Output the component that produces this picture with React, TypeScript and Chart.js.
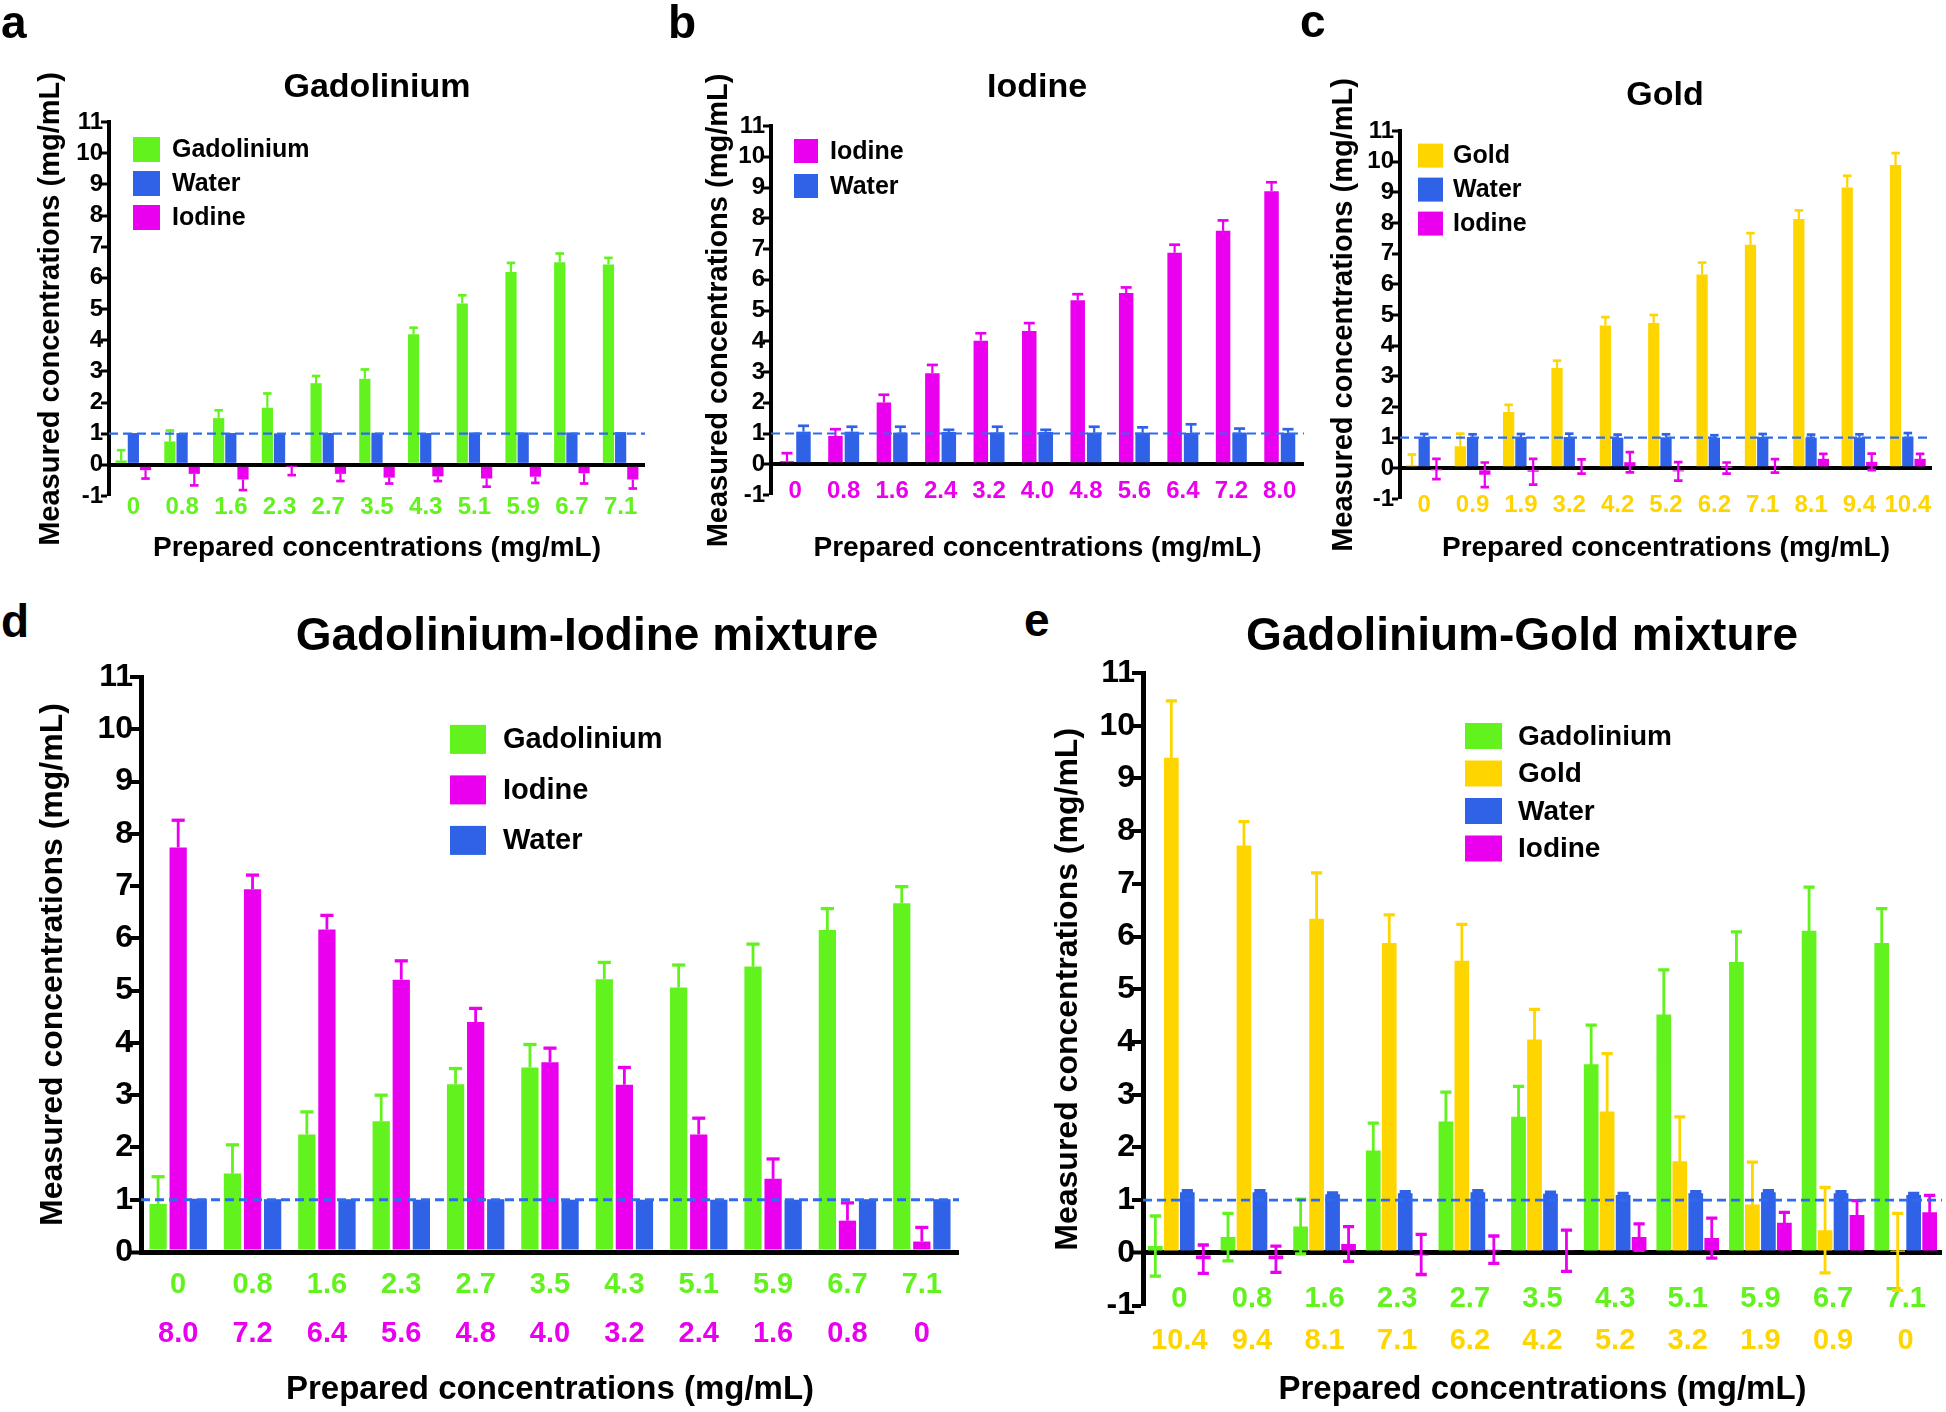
import React, { useEffect, useRef } from 'react';
import { Chart, registerables } from 'chart.js';

Chart.register(...registerables);

const FONT = '"Liberation Sans", Arial, Helvetica, sans-serif';
const GREEN = '#62f21e';
const BLUE = '#2f62e6';
const MAGENTA = '#ea00ee';
const GOLD = '#ffd500';
const DASH = '#2d6cf0';

// ---------- Panel a : Gadolinium ----------
const catsA = ['0', '0.8', '1.6', '2.3', '2.7', '3.5', '4.3', '5.1', '5.9', '6.7', '7.1'];
const gdA = [0.14, 0.75, 1.5, 1.83, 2.62, 2.76, 4.19, 5.18, 6.19, 6.5, 6.43];
const gdAErr = [0.33, 0.35, 0.25, 0.46, 0.23, 0.3, 0.21, 0.26, 0.29, 0.28, 0.21];
const waterA = [1.02, 1.02, 1.02, 1.01, 1.02, 1.03, 1.02, 1.04, 1.04, 1.04, 1.05];
const iodA = [-0.17, -0.29, -0.47, -0.03, -0.29, -0.41, -0.37, -0.44, -0.38, -0.27, -0.47];
const iodAErr = [0.27, 0.37, 0.34, 0.3, 0.23, 0.19, 0.15, 0.26, 0.2, 0.33, 0.29];

// ---------- Panel b : Iodine ----------
const catsB = ['0', '0.8', '1.6', '2.4', '3.2', '4.0', '4.8', '5.6', '6.4', '7.2', '8.0'];
const iodB = [0.1, 0.92, 2.01, 2.96, 4.02, 4.33, 5.33, 5.57, 6.88, 7.59, 8.88];
const iodBErr = [0.26, 0.22, 0.25, 0.27, 0.24, 0.26, 0.2, 0.18, 0.26, 0.34, 0.29];
const waterB = [1.06, 1.06, 1.03, 1.05, 1.04, 1.05, 1.03, 1.03, 1.02, 1.03, 1.02];
const waterBErr = [0.19, 0.16, 0.19, 0.07, 0.18, 0.07, 0.19, 0.17, 0.28, 0.13, 0.12];

// ---------- Panel c : Gold ----------
const catsC = ['0', '0.9', '1.9', '3.2', '4.2', '5.2', '6.2', '7.1', '8.1', '9.4', '10.4'];
const goldC = [0.1, 0.72, 1.84, 3.27, 4.66, 4.74, 6.32, 7.29, 8.13, 9.16, 9.89];
const goldCErr = [0.35, 0.41, 0.23, 0.24, 0.27, 0.26, 0.39, 0.38, 0.28, 0.38, 0.39];
const waterC = [1.02, 1.02, 1.02, 1.02, 1.0, 1.01, 1.0, 1.02, 1.0, 1.01, 1.03];
const waterCErr = [0.1, 0.09, 0.1, 0.11, 0.1, 0.1, 0.08, 0.1, 0.1, 0.1, 0.12];
const iodC = [-0.02, -0.21, -0.11, 0.06, 0.2, -0.1, 0.01, 0.08, 0.31, 0.21, 0.31];
const iodCErr = [0.33, 0.4, 0.42, 0.23, 0.33, 0.3, 0.18, 0.22, 0.16, 0.27, 0.16];

// ---------- Panel d : Gadolinium-Iodine mixture ----------
const catsDGd = ['0', '0.8', '1.6', '2.3', '2.7', '3.5', '4.3', '5.1', '5.9', '6.7', '7.1'];
const catsDIod = ['8.0', '7.2', '6.4', '5.6', '4.8', '4.0', '3.2', '2.4', '1.6', '0.8', '0'];
const gdD = [0.92, 1.5, 2.25, 2.5, 3.21, 3.53, 5.22, 5.06, 5.46, 6.16, 6.67];
const gdDErr = [0.52, 0.55, 0.43, 0.5, 0.3, 0.44, 0.32, 0.43, 0.43, 0.41, 0.32];
const iodD = [7.74, 6.94, 6.17, 5.21, 4.4, 3.63, 3.2, 2.25, 1.4, 0.6, 0.2];
const iodDErr = [0.52, 0.27, 0.27, 0.36, 0.26, 0.27, 0.33, 0.31, 0.38, 0.34, 0.27];
const waterD = [1.02, 1.01, 1.01, 1.0, 1.01, 1.0, 1.0, 1.0, 1.0, 1.01, 1.01];

// ---------- Panel e : Gadolinium-Gold mixture ----------
const catsEGd = ['0', '0.8', '1.6', '2.3', '2.7', '3.5', '4.3', '5.1', '5.9', '6.7', '7.1'];
const catsEAu = ['10.4', '9.4', '8.1', '7.1', '6.2', '4.2', '5.2', '3.2', '1.9', '0.9', '0'];
const gdE = [0.13, 0.3, 0.5, 1.94, 2.49, 2.58, 3.58, 4.52, 5.52, 6.11, 5.88];
const gdEErr = [0.57, 0.45, 0.52, 0.52, 0.56, 0.58, 0.74, 0.85, 0.57, 0.83, 0.65];
const goldE = [9.39, 7.73, 6.34, 5.88, 5.54, 4.05, 2.68, 1.74, 0.92, 0.43, 0.02];
const goldEErr = [1.08, 0.45, 0.87, 0.53, 0.69, 0.57, 1.1, 0.84, 0.8, 0.81, 0.73];
const waterE = [1.15, 1.15, 1.11, 1.13, 1.15, 1.12, 1.1, 1.13, 1.15, 1.13, 1.1];
const waterEErr = [0.03, 0.03, 0.03, 0.03, 0.03, 0.03, 0.03, 0.03, 0.03, 0.03, 0.03];
const iodE = [-0.12, -0.12, 0.17, -0.03, 0.06, 0.04, 0.3, 0.28, 0.57, 0.72, 0.77];
const iodEErr = [0.27, 0.25, 0.33, 0.38, 0.26, 0.39, 0.25, 0.38, 0.2, 0.27, 0.32];

const Y_TITLE = 'Measured concentrations (mg/mL)';
const X_TITLE = 'Prepared concentrations (mg/mL)';

// ---------- plugins ----------
const errorBarsPlugin = {
  id: 'errorBars',
  afterDatasetsDraw(chart: any, _a: any, opts: any) {
    const ctx = chart.ctx;
    const ys = chart.scales.y;
    chart.data.datasets.forEach((ds: any, di: number) => {
      if (!ds.errors) return;
      const meta = chart.getDatasetMeta(di);
      meta.data.forEach((bar: any, i: number) => {
        const v = ds.data[i];
        const e = ds.errors[i];
        if (!e) return;
        const dir = v < 0 ? -1 : 1;
        const yEnd = ys.getPixelForValue(v + dir * e);
        const yStart = ys.getPixelForValue(ds.twoSided ? v - dir * e : v);
        const half = Math.max(3, bar.width * (opts.capFrac || 0.35));
        ctx.save();
        ctx.strokeStyle = ds.backgroundColor;
        ctx.lineWidth = opts.lineWidth || 2.5;
        ctx.lineCap = 'butt';
        ctx.beginPath();
        ctx.moveTo(bar.x, yStart);
        ctx.lineTo(bar.x, yEnd);
        ctx.stroke();
        ctx.lineWidth = opts.capWidth || 3;
        ctx.beginPath();
        ctx.moveTo(bar.x - half, yEnd);
        ctx.lineTo(bar.x + half, yEnd);
        if (ds.twoSided) {
          ctx.moveTo(bar.x - half, yStart);
          ctx.lineTo(bar.x + half, yStart);
        }
        ctx.stroke();
        ctx.restore();
      });
    });
  },
};

const refLinePlugin = {
  id: 'refLine',
  afterDatasetsDraw(chart: any, _a: any, opts: any) {
    const { ctx, chartArea } = chart;
    const y = chart.scales.y.getPixelForValue(opts.value);
    ctx.save();
    ctx.setLineDash(opts.dash);
    ctx.strokeStyle = opts.color;
    ctx.lineWidth = opts.width;
    ctx.beginPath();
    ctx.moveTo(chartArea.left, y);
    ctx.lineTo(chartArea.right, y);
    ctx.stroke();
    ctx.restore();
  },
};

const innerLegendPlugin = {
  id: 'innerLegend',
  afterDraw(chart: any, _a: any, opts: any) {
    const ctx = chart.ctx;
    ctx.save();
    ctx.font = `bold ${opts.fontSize}px ${FONT}`;
    ctx.textBaseline = 'middle';
    ctx.textAlign = 'left';
    chart.data.datasets.forEach((ds: any, i: number) => {
      const cy = opts.y + i * opts.dy;
      ctx.fillStyle = ds.backgroundColor;
      ctx.fillRect(opts.x, cy - opts.boxH / 2, opts.boxW, opts.boxH);
      ctx.fillStyle = '#000';
      ctx.fillText(ds.label, opts.textX, cy + 1);
    });
    ctx.restore();
  },
};

type DS = { label: string; data: number[]; errors?: number[]; color: string; twoSided?: boolean };

type PanelSpec = {
  canvas: { left: number; top: number; width: number; height: number };
  area: { left: number; top: number; right: number; bottom: number };
  yMin: number;
  yMax: number;
  labels: string[];
  labelColor: string;
  labels2?: string[];
  label2Color?: string;
  h1?: number;
  datasets: DS[];
  catPct: number;
  barPct: number;
  fonts: { tick: number; cat: number; xTitle: number; yTitle: number; legend: number };
  yTitleX: number;
  catY: number;
  cat2Y?: number;
  xTitleY: number;
  legend: { x: number; y: number; dy: number; boxW: number; boxH: number; textX: number };
  tickLen: number;
  tickPad: number;
  tickWidth: number;
  zeroWidth: number;
  borderWidth: number;
  errLine: number;
  dashWidth: number;
};

function buildConfig(p: PanelSpec): any {
  const cl = p.canvas.left;
  const ct = p.canvas.top;
  const cw = p.canvas.width;
  const ch = p.canvas.height;
  const yW = p.area.left - cl;
  const padTop = p.area.top - ct;
  const padRight = cl + cw - p.area.right;
  const bottomTotal = ct + ch - p.area.bottom;
  const two = !!p.labels2;
  const h1 = two ? (p.h1 as number) : bottomTotal;
  const h2 = bottomTotal - h1;
  const catLH = p.fonts.cat * 1.2;
  const xLH = p.fonts.xTitle * 1.2;
  const yLH = p.fonts.yTitle * 1.2;
  const catFont = { family: FONT, size: p.fonts.cat, weight: 'bold' };

  const xTitle = {
    display: true,
    text: X_TITLE,
    color: '#000',
    font: { family: FONT, size: p.fonts.xTitle, weight: 'bold' },
    padding: { top: 0, bottom: ct + ch - p.xTitleY - xLH / 2 },
  };

  const scales: any = {
    x: {
      type: 'category',
      position: 'bottom',
      weight: 1,
      offset: true,
      grid: { display: false, drawTicks: false },
      border: { display: false },
      ticks: {
        mirror: true,
        color: p.labelColor,
        font: catFont,
        padding: p.area.bottom - p.catY - catLH / 2,
        maxRotation: 0,
        minRotation: 0,
        autoSkip: false,
      },
      afterFit: (s: any) => {
        s.height = h1;
      },
      title: two ? { display: false } : xTitle,
    },
    y: {
      type: 'linear',
      position: 'left',
      min: p.yMin,
      max: p.yMax,
      z: 1,
      ticks: {
        stepSize: 1,
        color: '#000',
        font: { family: FONT, size: p.fonts.tick, weight: 'bold' },
        padding: p.tickPad,
        autoSkip: false,
      },
      grid: {
        display: true,
        drawOnChartArea: true,
        drawTicks: true,
        color: (c: any) => (c.tick && c.tick.value === 0 ? '#000' : 'rgba(0,0,0,0)'),
        lineWidth: (c: any) => (c.tick && c.tick.value === 0 ? p.zeroWidth : 0),
        tickColor: '#000',
        tickWidth: p.tickWidth,
        tickLength: p.tickLen,
      },
      border: { display: true, color: '#000', width: p.borderWidth },
      title: {
        display: true,
        text: Y_TITLE,
        color: '#000',
        font: { family: FONT, size: p.fonts.yTitle, weight: 'bold' },
        padding: { top: p.yTitleX - cl - yLH / 2, bottom: 0 },
      },
      afterFit: (s: any) => {
        s.width = yW;
      },
    },
  };

  if (two) {
    scales.x2 = {
      type: 'category',
      position: 'bottom',
      weight: 2,
      offset: true,
      labels: p.labels2,
      grid: { display: false, drawTicks: false },
      border: { display: false },
      ticks: {
        mirror: true,
        color: p.label2Color,
        font: catFont,
        padding: p.area.bottom + h1 - (p.cat2Y as number) - catLH / 2,
        maxRotation: 0,
        minRotation: 0,
        autoSkip: false,
      },
      afterFit: (s: any) => {
        s.height = h2;
      },
      title: xTitle,
    };
  }

  return {
    type: 'bar',
    data: {
      labels: p.labels,
      datasets: p.datasets.map((d) => ({
        label: d.label,
        data: d.data,
        errors: d.errors,
        twoSided: d.twoSided,
        backgroundColor: d.color,
        borderWidth: 0,
        categoryPercentage: p.catPct,
        barPercentage: p.barPct,
        xAxisID: 'x',
        yAxisID: 'y',
      })),
    },
    options: {
      responsive: false,
      animation: false,
      devicePixelRatio: 1,
      events: [],
      layout: { padding: { top: padTop, right: padRight, left: 0, bottom: 0 } },
      scales,
      plugins: {
        legend: { display: false },
        tooltip: { enabled: false },
        title: { display: false },
        errorBars: { lineWidth: p.errLine, capWidth: p.errLine + 0.5, capFrac: 0.38 },
        refLine: { value: 1, color: DASH, width: p.dashWidth, dash: [9, 5] },
        innerLegend: {
          x: p.legend.x - cl,
          y: p.legend.y - ct,
          dy: p.legend.dy,
          boxW: p.legend.boxW,
          boxH: p.legend.boxH,
          textX: p.legend.textX - cl,
          fontSize: p.fonts.legend,
        },
      },
    },
    plugins: [errorBarsPlugin, refLinePlugin, innerLegendPlugin],
  };
}

const topFonts = { tick: 24, cat: 24, xTitle: 28, yTitle: 29, legend: 25 };
const botFonts = { tick: 32, cat: 29, xTitle: 33, yTitle: 32, legend: 29 };

const panelA: PanelSpec = {
  canvas: { left: 0, top: 40, width: 660, height: 535 },
  area: { left: 109, top: 122, right: 645, bottom: 496 },
  yMin: -1,
  yMax: 11,
  labels: catsA,
  labelColor: GREEN,
  datasets: [
    { label: 'Gadolinium', data: gdA, errors: gdAErr, color: GREEN },
    { label: 'Water', data: waterA, color: BLUE },
    { label: 'Iodine', data: iodA, errors: iodAErr, color: MAGENTA },
  ],
  catPct: 0.75,
  barPct: 0.92,
  fonts: topFonts,
  yTitleX: 51,
  catY: 507,
  xTitleY: 548,
  legend: { x: 133, y: 149.5, dy: 34, boxW: 27, boxH: 25, textX: 172 },
  tickLen: 8,
  tickPad: -2,
  tickWidth: 3,
  zeroWidth: 4,
  borderWidth: 4,
  errLine: 2.2,
  dashWidth: 2.2,
};

const panelB: PanelSpec = {
  canvas: { left: 662, top: 40, width: 650, height: 535 },
  area: { left: 771, top: 126, right: 1304, bottom: 495 },
  yMin: -1,
  yMax: 11,
  labels: catsB,
  labelColor: MAGENTA,
  datasets: [
    { label: 'Iodine', data: iodB, errors: iodBErr, color: MAGENTA },
    { label: 'Water', data: waterB, errors: waterBErr, color: BLUE },
  ],
  catPct: 0.68,
  barPct: 0.88,
  fonts: topFonts,
  yTitleX: 719,
  catY: 491,
  xTitleY: 548,
  legend: { x: 794, y: 151, dy: 35, boxW: 24, boxH: 24, textX: 830 },
  tickLen: 8,
  tickPad: -2,
  tickWidth: 3,
  zeroWidth: 4,
  borderWidth: 4,
  errLine: 2.2,
  dashWidth: 2.2,
};

const panelC: PanelSpec = {
  canvas: { left: 1300, top: 40, width: 646, height: 535 },
  area: { left: 1400, top: 131, right: 1932, bottom: 499 },
  yMin: -1,
  yMax: 11,
  labels: catsC,
  labelColor: GOLD,
  datasets: [
    { label: 'Gold', data: goldC, errors: goldCErr, color: GOLD },
    { label: 'Water', data: waterC, errors: waterCErr, color: BLUE },
    { label: 'Iodine', data: iodC, errors: iodCErr, color: MAGENTA, twoSided: true },
  ],
  catPct: 0.76,
  barPct: 0.92,
  fonts: topFonts,
  yTitleX: 1344,
  catY: 505.5,
  xTitleY: 548,
  legend: { x: 1418, y: 155.6, dy: 34, boxW: 25, boxH: 24, textX: 1453 },
  tickLen: 8,
  tickPad: -2,
  tickWidth: 3,
  zeroWidth: 4,
  borderWidth: 4,
  errLine: 2.2,
  dashWidth: 2.2,
};

const panelD: PanelSpec = {
  canvas: { left: 0, top: 655, width: 980, height: 757 },
  area: { left: 141, top: 677, right: 959, bottom: 1252 },
  yMin: 0,
  yMax: 11,
  labels: catsDGd,
  labelColor: GREEN,
  labels2: catsDIod,
  label2Color: MAGENTA,
  h1: 50,
  datasets: [
    { label: 'Gadolinium', data: gdD, errors: gdDErr, color: GREEN },
    { label: 'Iodine', data: iodD, errors: iodDErr, color: MAGENTA },
    { label: 'Water', data: waterD, color: BLUE },
  ],
  catPct: 0.81,
  barPct: 0.86,
  fonts: botFonts,
  yTitleX: 53,
  catY: 1284.6,
  cat2Y: 1334.4,
  xTitleY: 1390,
  legend: { x: 450, y: 739.4, dy: 50.5, boxW: 36, boxH: 29, textX: 503 },
  tickLen: 11,
  tickPad: -3,
  tickWidth: 4,
  zeroWidth: 5,
  borderWidth: 5,
  errLine: 2.8,
  dashWidth: 2.8,
};

const panelE: PanelSpec = {
  canvas: { left: 985, top: 650, width: 961, height: 762 },
  area: { left: 1143, top: 673, right: 1942, bottom: 1305.6 },
  yMin: -1,
  yMax: 11,
  labels: catsEGd,
  labelColor: GREEN,
  labels2: catsEAu,
  label2Color: GOLD,
  h1: 42,
  datasets: [
    { label: 'Gadolinium', data: gdE, errors: gdEErr, color: GREEN, twoSided: true },
    { label: 'Gold', data: goldE, errors: goldEErr, color: GOLD, twoSided: true },
    { label: 'Water', data: waterE, errors: waterEErr, color: BLUE, twoSided: true },
    { label: 'Iodine', data: iodE, errors: iodEErr, color: MAGENTA, twoSided: true },
  ],
  catPct: 0.88,
  barPct: 0.92,
  fonts: { tick: 32, cat: 29, xTitle: 33, yTitle: 32, legend: 28 },
  yTitleX: 1068,
  catY: 1298.8,
  cat2Y: 1340.7,
  xTitleY: 1390,
  legend: { x: 1465, y: 736, dy: 37.5, boxW: 37, boxH: 26, textX: 1518 },
  tickLen: 11,
  tickPad: -3,
  tickWidth: 4,
  zeroWidth: 5,
  borderWidth: 5,
  errLine: 2.8,
  dashWidth: 2.8,
};

function ChartPanel({ spec }: { spec: PanelSpec }) {
  const ref = useRef<HTMLCanvasElement>(null);
  useEffect(() => {
    const chart = new Chart(ref.current as HTMLCanvasElement, buildConfig(spec));
    return () => chart.destroy();
  }, [spec]);
  return (
    <canvas
      ref={ref}
      width={spec.canvas.width}
      height={spec.canvas.height}
      style={{
        position: 'absolute',
        left: spec.canvas.left,
        top: spec.canvas.top,
        width: spec.canvas.width,
        height: spec.canvas.height,
      }}
    />
  );
}

const textBase: React.CSSProperties = {
  position: 'absolute',
  fontFamily: FONT,
  fontWeight: 'bold',
  lineHeight: 1,
  color: '#000',
  whiteSpace: 'nowrap',
};

function Letter({ ch, left, top }: { ch: string; left: number; top: number }) {
  return <div style={{ ...textBase, left, top, fontSize: 46 }}>{ch}</div>;
}

function Title({ text, cx, top, size }: { text: string; cx: number; top: number; size: number }) {
  return (
    <div style={{ ...textBase, left: cx, top, fontSize: size, transform: 'translateX(-50%)' }}>{text}</div>
  );
}

export default function App() {
  return (
    <div
      style={{
        position: 'absolute',
        left: 0,
        top: 0,
        width: 1946,
        height: 1412,
        background: '#fff',
        overflow: 'hidden',
      }}
    >
      <ChartPanel spec={panelA} />
      <ChartPanel spec={panelB} />
      <ChartPanel spec={panelC} />
      <ChartPanel spec={panelD} />
      <ChartPanel spec={panelE} />
      <Letter ch="a" left={1} top={-1} />
      <Letter ch="b" left={668} top={-1} />
      <Letter ch="c" left={1300} top={-2} />
      <Letter ch="d" left={1} top={598} />
      <Letter ch="e" left={1024} top={597} />
      <Title text="Gadolinium" cx={377} top={68} size={34} />
      <Title text="Iodine" cx={1037} top={68} size={34} />
      <Title text="Gold" cx={1665} top={76} size={34} />
      <Title text="Gadolinium-Iodine mixture" cx={587} top={611} size={46} />
      <Title text="Gadolinium-Gold mixture" cx={1522} top={611} size={46} />
    </div>
  );
}
